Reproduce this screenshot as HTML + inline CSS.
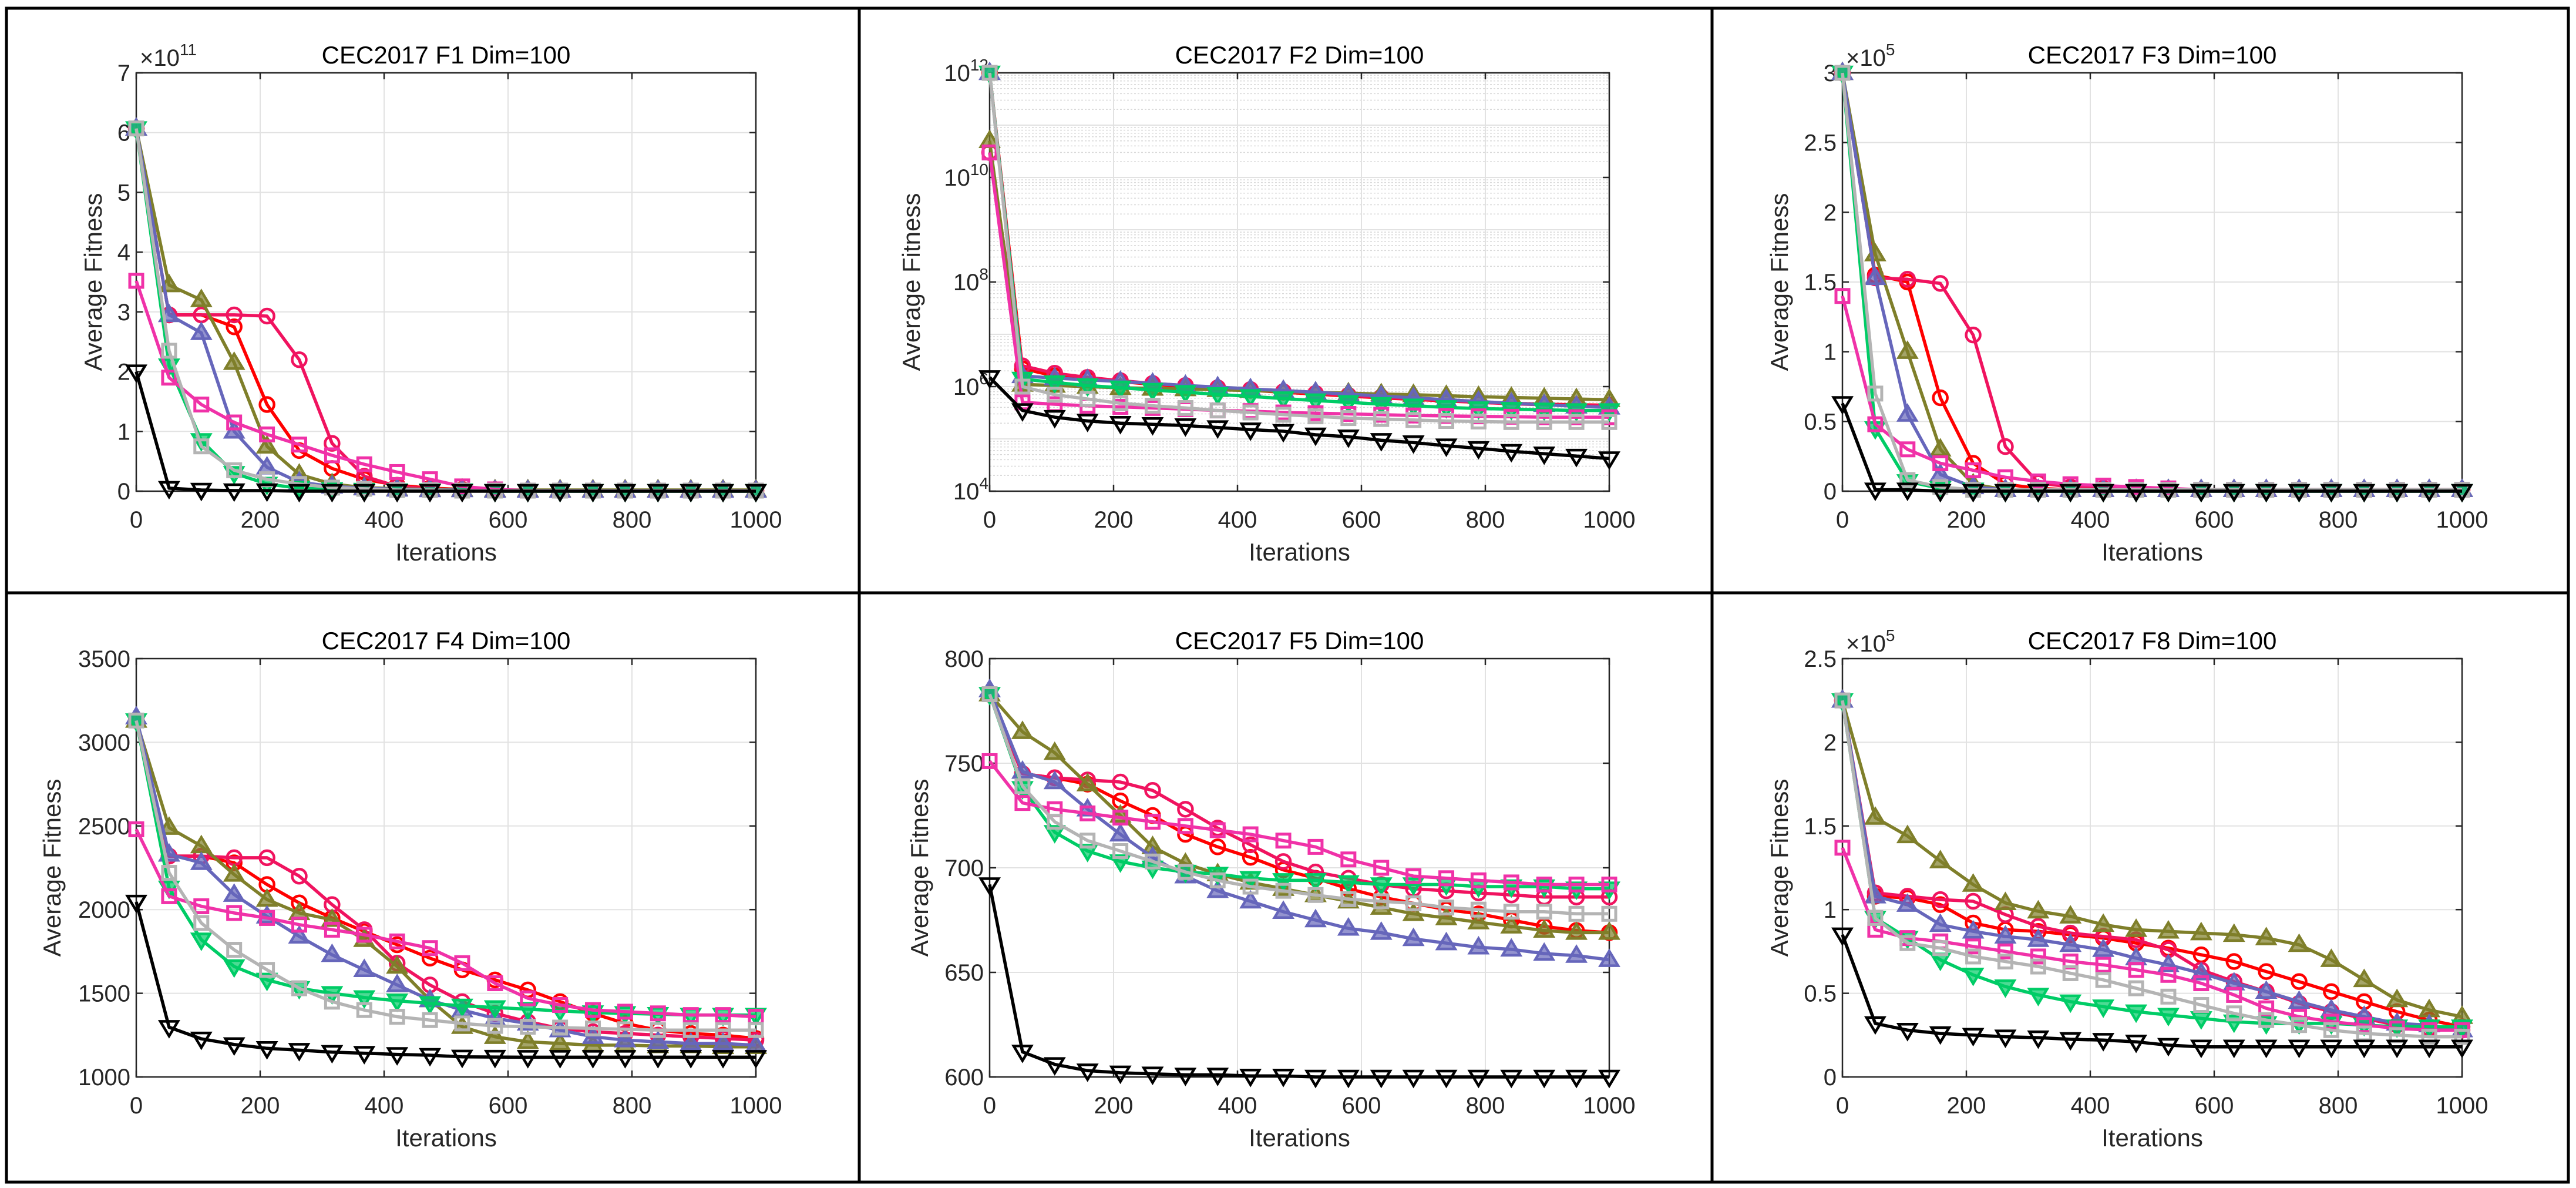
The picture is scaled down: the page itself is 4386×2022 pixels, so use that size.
<!DOCTYPE html>
<html><head><meta charset="utf-8"><title>CEC2017 convergence curves</title>
<style>
html,body{margin:0;padding:0;background:#fff;}
svg{display:block;font-family:"Liberation Sans",Arial,sans-serif;}
</style></head>
<body>
<svg id="fig" width="4386" height="2022" viewBox="0 0 4386 2022" xmlns="http://www.w3.org/2000/svg">
<rect x="0" y="0" width="4386" height="2022" fill="#fff"/>
<g id="frames" stroke="#000" stroke-width="5" fill="none">
<rect x="11" y="14" width="4362" height="1998"/>
<line x1="1463" y1="14" x2="1463" y2="2012"/>
<line x1="2915" y1="14" x2="2915" y2="2012"/>
<line x1="11" y1="1009" x2="4373" y2="1009"/>
</g>
</svg>
<script>
// iterations sampled at markers
const iters = [0,53,105,158,211,263,316,368,421,474,526,579,632,684,737,789,842,895,947,1000];
const seriesNames = ["red-circle","crimson-circle","olive-triangle","blue-triangle","green-down-triangle","pink-square","grey-square","black-down-triangle"];
const xTicks = [0,200,400,600,800,1000];

// F1 (x1e11)
const f1Red     = [6.07,2.95,2.95,2.75,1.45,0.68,0.38,0.2,0.1,0.05,0.03,0.02,0.01,0.01,0.01,0.01,0.01,0.01,0.01,0.01];
const f1Crimson = [6.07,2.95,2.95,2.95,2.93,2.2,0.8,0.25,0.08,0.04,0.02,0.01,0.01,0.01,0.01,0.01,0.01,0.01,0.01,0.01];
const f1Olive   = [6.07,3.45,3.2,2.15,0.75,0.28,0.12,0.06,0.04,0.03,0.03,0.02,0.02,0.02,0.02,0.02,0.02,0.02,0.02,0.02];
const f1Blue    = [6.07,2.95,2.65,1.0,0.4,0.15,0.08,0.05,0.03,0.02,0.02,0.01,0.01,0.01,0.01,0.01,0.01,0.01,0.01,0.01];
const f1Green   = [6.07,2.1,0.85,0.3,0.12,0.05,0.03,0.02,0.01,0.01,0.01,0,0,0,0,0,0,0,0,0];
const f1Pink    = [3.52,1.9,1.45,1.15,0.95,0.78,0.6,0.45,0.32,0.2,0.08,0.03,0.01,0.01,0.01,0.01,0.01,0.01,0.01,0.01];
const f1Grey    = [6.07,2.35,0.75,0.35,0.2,0.12,0.06,0.04,0.02,0.02,0.01,0.01,0.01,0.01,0.01,0.01,0.01,0.01,0.01,0.01];
const f1Black   = [2.0,0.05,0.02,0.01,0.01,0,0,0,0,0,0,0,0,0,0,0,0,0,0,0];
const f1YTicks  = [0,1,2,3,4,5,6,7];

// F2 (log scale)
const f2Red     = [1e12,2.2e6,1.6e6,1.4e6,1.25e6,1.1e6,1e6,9.2e5,8.5e5,7.8e5,7.2e5,6.6e5,6.1e5,5.7e5,5.3e5,5e5,4.8e5,4.6e5,4.5e5,4.4e5];
const f2Crimson = [3e10,2.5e6,1.8e6,1.5e6,1.3e6,1.15e6,1.05e6,9.5e5,8.8e5,8e5,7.4e5,6.8e5,6.3e5,5.8e5,5.4e5,5e5,4.7e5,4.5e5,4.4e5,4.3e5];
const f2Olive   = [5e10,1.1e6,1.05e6,1.0e6,9.5e5,9.2e5,9e5,8.7e5,8.4e5,8.1e5,7.8e5,7.5e5,7.2e5,7e5,6.7e5,6.4e5,6.2e5,6e5,5.8e5,5.6e5];
const f2Blue    = [1e12,1.6e6,1.45e6,1.35e6,1.25e6,1.15e6,1.05e6,9.8e5,9e5,8.4e5,7.8e5,7.2e5,6.6e5,6.1e5,5.6e5,5.2e5,4.8e5,4.5e5,4.2e5,4e5];
const f2Green   = [1e12,1.4e6,1.2e6,1.05e6,9.5e5,8.6e5,7.8e5,7.1e5,6.5e5,5.9e5,5.4e5,5e5,4.6e5,4.3e5,4e5,3.8e5,3.7e5,3.6e5,3.5e5,3.5e5];
const f2Pink    = [3e10,5e5,4.6e5,4.3e5,4.1e5,3.9e5,3.7e5,3.5e5,3.4e5,3.2e5,3.1e5,3e5,2.9e5,2.8e5,2.75e5,2.7e5,2.65e5,2.6e5,2.6e5,2.6e5];
const f2Grey    = [1e12,1e6,7e5,5.8e5,4.8e5,4.3e5,3.9e5,3.5e5,3.2e5,2.9e5,2.7e5,2.5e5,2.4e5,2.3e5,2.2e5,2.15e5,2.1e5,2.1e5,2.1e5,2.1e5];
const f2Black   = [1.5e6,3.5e5,2.6e5,2.2e5,2.0e5,1.9e5,1.8e5,1.65e5,1.5e5,1.4e5,1.2e5,1.1e5,9.4e4,8.5e4,7.4e4,6.6e4,5.8e4,5.2e4,4.7e4,4.2e4];
const f2YTicks  = [4,6,8,10,12];

// F3 (x1e5)
const f3Red     = [3.0,1.55,1.5,0.67,0.2,0.05,0.02,0.01,0.01,0.01,0.01,0.01,0.01,0.01,0.01,0.01,0.01,0.01,0.01,0.01];
const f3Crimson = [3.0,1.53,1.52,1.49,1.12,0.32,0.06,0.03,0.02,0.01,0.01,0.01,0.01,0.01,0.01,0.01,0.01,0.01,0.01,0.01];
const f3Olive   = [3.0,1.7,1.0,0.3,0.05,0.01,0.01,0.01,0.01,0.01,0.01,0.01,0.01,0.01,0.01,0.01,0.01,0.01,0.01,0.01];
const f3Blue    = [3.0,1.53,0.55,0.12,0.03,0.01,0.01,0.01,0.01,0.01,0.01,0.01,0.01,0.01,0.01,0.01,0.01,0.01,0.01,0.01];
const f3Green   = [3.0,0.45,0.07,0.02,0.01,0,0,0,0,0,0,0,0,0,0,0,0,0,0,0];
const f3Pink    = [1.4,0.48,0.3,0.2,0.15,0.1,0.07,0.05,0.04,0.03,0.02,0.01,0.01,0.01,0.01,0.01,0.01,0.01,0.01,0.01];
const f3Grey    = [3.0,0.7,0.08,0.03,0.01,0.01,0.01,0.01,0.01,0.01,0.01,0.01,0.01,0.01,0.01,0.01,0.01,0.01,0.01,0.01];
const f3Black   = [0.63,0.01,0.01,0,0,0,0,0,0,0,0,0,0,0,0,0,0,0,0,0];
const f3YTicks  = [0,0.5,1,1.5,2,2.5,3];

// F4
const f4Red     = [3130,2320,2320,2280,2150,2040,1950,1870,1790,1710,1640,1580,1520,1450,1380,1320,1280,1260,1250,1230];
const f4Crimson = [3130,2320,2320,2310,2310,2200,2030,1880,1680,1550,1450,1380,1330,1290,1270,1260,1250,1240,1230,1220];
const f4Olive   = [3130,2490,2380,2210,2060,1980,1940,1820,1660,1460,1300,1240,1210,1200,1190,1190,1185,1185,1180,1180];
const f4Blue    = [3150,2330,2280,2090,1960,1840,1730,1640,1550,1460,1400,1350,1320,1280,1240,1220,1210,1200,1200,1190];
const f4Green   = [3130,2130,1820,1660,1580,1530,1500,1475,1455,1440,1425,1415,1405,1395,1385,1380,1375,1370,1370,1370];
const f4Pink    = [2480,2080,2020,1980,1950,1910,1880,1850,1810,1770,1680,1560,1470,1430,1400,1390,1380,1370,1370,1360];
const f4Grey    = [3130,2220,1920,1760,1640,1530,1450,1400,1360,1340,1320,1305,1300,1295,1290,1285,1280,1280,1280,1280];
const f4Black   = [2046,1297,1228,1194,1171,1160,1148,1142,1135,1130,1120,1119,1118,1118,1118,1118,1118,1118,1118,1118];
const f4YTicks  = [1000,1500,2000,2500,3000,3500];

// F5
const f5Red     = [783,745,743,740,732,725,716,710,705,699,695,690,686,683,680,678,675,672,670,669];
const f5Crimson = [783,745,743,742,741,737,728,719,711,703,698,695,692,690,689,688,687,686,686,686];
const f5Olive   = [783,765,755,740,725,710,702,697,693,690,687,684,681,678,676,674,672,670,669,669];
const f5Blue    = [785,746,741,728,716,705,696,689,684,679,675,671,669,666,664,662,661,659,658,656];
const f5Green   = [783,738,717,708,703,700,698,697,695,694,694,693,692,692,692,691,691,691,690,690];
const f5Pink    = [751,731,728,726,724,722,720,718,716,713,710,704,700,696,695,694,693,692,692,692];
const f5Grey    = [783,739,722,713,708,703,698,694,691,689,687,685,684,683,681,680,679,679,678,678];
const f5Black   = [692,612,606,603,602,601.5,601,601,600.5,600.5,600,600,600,600,600,600,600,600,600,600];
const f5YTicks  = [600,650,700,750,800];

// F8 (x1e5)
const f8Red     = [2.25,1.08,1.07,1.03,0.92,0.88,0.87,0.85,0.83,0.80,0.77,0.73,0.69,0.63,0.57,0.51,0.45,0.39,0.34,0.30];
const f8Crimson = [2.25,1.1,1.08,1.06,1.05,0.97,0.9,0.86,0.84,0.82,0.76,0.64,0.57,0.51,0.44,0.39,0.35,0.31,0.29,0.28];
const f8Olive   = [2.25,1.55,1.44,1.29,1.15,1.04,0.99,0.96,0.91,0.88,0.87,0.86,0.85,0.83,0.79,0.70,0.58,0.46,0.40,0.36];
const f8Blue    = [2.25,1.08,1.03,0.91,0.87,0.84,0.82,0.79,0.76,0.71,0.67,0.62,0.56,0.51,0.45,0.40,0.36,0.32,0.31,0.28];
const f8Green   = [2.25,0.95,0.83,0.70,0.61,0.54,0.49,0.45,0.42,0.39,0.37,0.35,0.33,0.32,0.32,0.32,0.31,0.30,0.30,0.30];
const f8Pink    = [1.37,0.88,0.83,0.81,0.78,0.75,0.72,0.69,0.67,0.64,0.61,0.56,0.49,0.41,0.36,0.33,0.31,0.29,0.28,0.28];
const f8Grey    = [2.25,0.95,0.80,0.77,0.72,0.69,0.66,0.62,0.58,0.53,0.48,0.43,0.38,0.34,0.31,0.28,0.26,0.25,0.24,0.24];
const f8Black   = [0.85,0.32,0.28,0.26,0.25,0.24,0.235,0.225,0.22,0.21,0.19,0.18,0.18,0.18,0.18,0.18,0.18,0.18,0.18,0.18];
const f8YTicks  = [0,0.5,1,1.5,2,2.5];

const panels = [
 {id:"f1",title:"CEC2017 F1 Dim=100",col:0,row:0,ymin:0,ymax:7,ticks:f1YTicks,exp:"11",log:false,ylabOff:73,
  data:[f1Red,f1Crimson,f1Olive,f1Blue,f1Green,f1Pink,f1Grey,f1Black]},
 {id:"f2",title:"CEC2017 F2 Dim=100",col:1,row:0,ymin:4,ymax:12,ticks:f2YTicks,exp:null,log:true,ylabOff:133,
  data:[f2Red,f2Crimson,f2Olive,f2Blue,f2Green,f2Pink,f2Grey,f2Black]},
 {id:"f3",title:"CEC2017 F3 Dim=100",col:2,row:0,ymin:0,ymax:3,ticks:f3YTicks,exp:"5",log:false,ylabOff:107,
  data:[f3Red,f3Crimson,f3Olive,f3Blue,f3Green,f3Pink,f3Grey,f3Black]},
 {id:"f4",title:"CEC2017 F4 Dim=100",col:0,row:1,ymin:1000,ymax:3500,ticks:f4YTicks,exp:null,log:false,ylabOff:143,
  data:[f4Red,f4Crimson,f4Olive,f4Blue,f4Green,f4Pink,f4Grey,f4Black]},
 {id:"f5",title:"CEC2017 F5 Dim=100",col:1,row:1,ymin:600,ymax:800,ticks:f5YTicks,exp:null,log:false,ylabOff:119,
  data:[f5Red,f5Crimson,f5Olive,f5Blue,f5Green,f5Pink,f5Grey,f5Black]},
 {id:"f8",title:"CEC2017 F8 Dim=100",col:2,row:1,ymin:0,ymax:2.5,ticks:f8YTicks,exp:"5",log:false,ylabOff:107,
  data:[f8Red,f8Crimson,f8Olive,f8Blue,f8Green,f8Pink,f8Grey,f8Black]}
];

const colors = ["#ff0000","#f0135f","#7f7f2a","#6666bb","#00cc66","#f032a8","#b4b4b4","#000000"];
const markers = ["circle","circle","up","up","down","square","square","down"];
const filled = [false,false,true,true,true,false,true,false];
const colLeft = [232,1685,3137];
const rowTop = [124,1121];
const PW = 1055, PH = 712;
const NS = "http://www.w3.org/2000/svg";
const svg = document.getElementById("fig");

function mk(tag, attrs, parent){
  const e = document.createElementNS(NS, tag);
  for (const k in attrs) e.setAttribute(k, attrs[k]);
  if (parent) parent.appendChild(e);
  return e;
}

function fmt(v){ return String(v); }

panels.forEach(function(p){
  const L = colLeft[p.col], T = rowTop[p.row];
  const g = mk("g", {}, svg);
  
  
  const xs = function(v){ return L + v/1000*PW; };
  const ys = function(v){
    let t = p.log ? Math.log10(Math.max(v,1e-300)) : v;
    return T + PH - (t - p.ymin)/(p.ymax - p.ymin)*PH;
  };
  const yt = function(t){ return T + PH - (t - p.ymin)/(p.ymax - p.ymin)*PH; };

  // grid
  const grid = mk("g", {stroke:"#e2e2e2","stroke-width":2}, g);
  
  
  if (p.log){
    for (let d = p.ymin; d < p.ymax; d++){
      for (let m = 2; m <= 9; m++){
        const yy = yt(d + Math.log10(m));
        mk("line", {x1:L, x2:L+PW, y1:yy, y2:yy, stroke:"#d8d8d8", "stroke-dasharray":"3,3", "stroke-width":1.5}, grid);
      }
    }
    for (let d = p.ymin; d <= p.ymax; d++){
      mk("line", {x1:L, x2:L+PW, y1:yt(d), y2:yt(d)}, grid);
    }
  } else {
    p.ticks.forEach(function(t){ mk("line", {x1:L, x2:L+PW, y1:yt(t), y2:yt(t)}, grid); });
  }
  xTicks.forEach(function(t){ mk("line", {x1:xs(t), x2:xs(t), y1:T, y2:T+PH}, grid); });

  // axis box + ticks
  const ax = mk("g", {stroke:"#262626","stroke-width":2.5, fill:"none"}, g);
  
  
  mk("rect", {x:L, y:T, width:PW, height:PH}, ax);
  xTicks.forEach(function(t){
    mk("line", {x1:xs(t), x2:xs(t), y1:T+PH, y2:T+PH-11}, ax);
    mk("line", {x1:xs(t), x2:xs(t), y1:T, y2:T+11}, ax);
  });
  p.ticks.forEach(function(t){
    mk("line", {x1:L, x2:L+11, y1:yt(t), y2:yt(t)}, ax);
    mk("line", {x1:L+PW, x2:L+PW-11, y1:yt(t), y2:yt(t)}, ax);
  });

  // tick labels
  const xl = mk("g", {fill:"#262626","font-size":40,"text-anchor":"middle"}, g);
  
  
  xTicks.forEach(function(t){
    const tx = mk("text", {x:xs(t), y:T+PH+62}, xl);
    tx.textContent = fmt(t);
  });
  const yl = mk("g", {fill:"#262626","font-size":40,"text-anchor":"end"}, g);
  
  
  p.ticks.forEach(function(t){
    const tx = mk("text", {x:L-10, y:yt(t)+14}, yl);
    if (p.log){
      tx.appendChild(document.createTextNode("10"));
      const s = mk("tspan", {"font-size":28, dy:-18}, tx);
      s.textContent = String(t);
      tx.setAttribute("x", L-2);
    } else {
      tx.textContent = fmt(t);
    }
  });
  if (p.exp){
    const ex = mk("text", {x:L+6, y:T-12, fill:"#262626","font-size":40}, g);
    
    
    ex.appendChild(document.createTextNode("×10"));
    const s = mk("tspan", {"font-size":28, dy:-18}, ex);
    s.textContent = p.exp;
  }

  // title
  const ti = mk("text", {x:L+PW/2, y:T-16, "text-anchor":"middle","font-size":42, fill:"#000"}, g);
  
  
  ti.textContent = p.title;
  // x label
  const xt = mk("text", {x:L+PW/2, y:T+PH+118, "text-anchor":"middle","font-size":42, fill:"#262626"}, g);
  
  
  xt.textContent = "Iterations";
  // y label
  const cx = L - p.ylabOff, cy = T + PH/2;
  const ytt = mk("text", {x:cx, y:cy, "text-anchor":"middle","font-size":42, fill:"#262626", transform:"rotate(-90 "+cx+" "+cy+")", dy:14}, g);
  
  
  ytt.textContent = "Average Fitness";

  // series
  const sg = mk("g", {}, g);
  
  
  p.data.forEach(function(arr, si){
    const c = colors[si];
    const lg = mk("g", {}, sg);
    
    
    const pts = arr.map(function(v,i){ return xs(iters[i]).toFixed(1)+","+ys(v).toFixed(1); }).join(" ");
    mk("polyline", {points:pts, fill:"none", stroke:c, "stroke-width":5.5, "stroke-linejoin":"round"}, lg);
    arr.forEach(function(v,i){
      const x = xs(iters[i]), y = ys(v), r = 12;
      const fillc = filled[si] ? c : "none";
      let m;
      if (markers[si] === "circle"){
        m = mk("circle", {cx:x, cy:y, r:r, fill:"none", stroke:c, "stroke-width":4.5}, lg);
      } else if (markers[si] === "square"){
        m = mk("rect", {x:x-11, y:y-11, width:22, height:22, fill:"none", stroke:c, "stroke-width":5}, lg);
      } else if (markers[si] === "up"){
        m = mk("polygon", {points:x+","+(y-15)+" "+(x-15)+","+(y+10)+" "+(x+15)+","+(y+10), fill:fillc, "fill-opacity":0.7, stroke:c, "stroke-width":4.5}, lg);
      } else {
        m = mk("polygon", {points:x+","+(y+15)+" "+(x-15)+","+(y-10)+" "+(x+15)+","+(y-10), fill:fillc, "fill-opacity":0.7, stroke:c, "stroke-width":4.5}, lg);
      }
      
      
    });
  });
});
</script>
</body></html>
